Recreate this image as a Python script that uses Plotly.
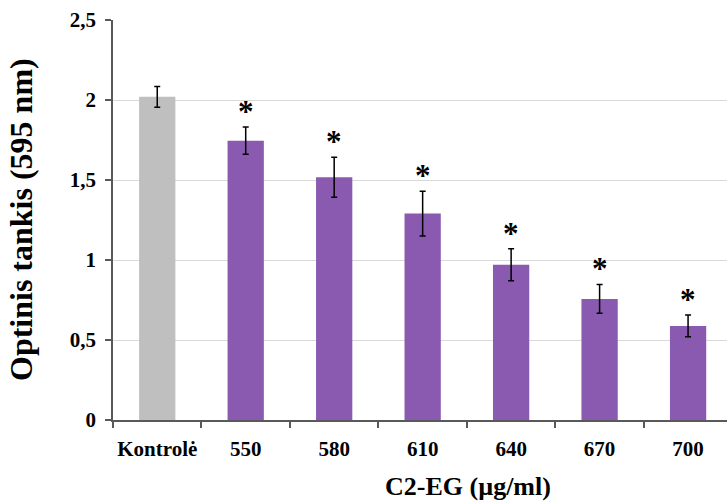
import plotly.graph_objects as go

categories = ["Kontrolė", "550", "580", "610", "640", "670", "700"]
values = [2.02, 1.746, 1.517, 1.29, 0.97, 0.757, 0.588]
errors = [0.065, 0.085, 0.125, 0.14, 0.10, 0.09, 0.068]
colors = ["#bfbfbf", "#8a59b0", "#8a59b0", "#8a59b0", "#8a59b0", "#8a59b0", "#8a59b0"]
significant = [False, True, True, True, True, True, True]
y_ticks = [0, 0.5, 1, 1.5, 2, 2.5]
y_tick_text = ["0", "0,5", "1", "1,5", "2", "2,5"]
x_title = "C2-EG (µg/ml)"
y_title = "Optinis tankis (595 nm)"

font_family = "Liberation Serif"

fig = go.Figure()
fig.add_trace(go.Bar(
    x=list(range(len(categories))), y=values,
    marker=dict(color=colors, line=dict(width=0)),
    error_y=dict(type="data", array=errors, visible=True, color="black", thickness=1.5, width=3),
    width=0.41,
))

for i, (v, e, s) in enumerate(zip(values, errors, significant)):
    if s:
        fig.add_annotation(x=i, y=v + e, text="<b>*</b>", showarrow=False,
                           xref="x", yref="y",
                           yanchor="bottom", yshift=-4,
                           font=dict(family=font_family, size=31, color="black"))

fig.add_annotation(x=0, y=0.5, xref="paper", yref="paper", xshift=-92,
                   text="<b>" + y_title + "</b>", textangle=-90, showarrow=False,
                   xanchor="center", yanchor="middle",
                   font=dict(family=font_family, size=32, color="black"))
fig.add_annotation(x=0.578, y=-0.165, xref="paper", yref="paper",
                   text="<b>" + x_title + "</b>", showarrow=False,
                   xanchor="center", yanchor="middle",
                   font=dict(family=font_family, size=26, color="black"))

fig.update_layout(
    width=727, height=502,
    margin=dict(l=113, r=0, t=20, b=82),
    plot_bgcolor="white", paper_bgcolor="white",
    showlegend=False,
    font=dict(family=font_family, color="black"),
)
fig.update_xaxes(
    range=[-0.5, 6.44],
    tickvals=list(range(len(categories))),
    ticktext=["<b>" + c + "</b>" for c in categories],
    showline=True, linecolor="#595959", linewidth=1.5,
    ticks="",
    tickfont=dict(family=font_family, size=21, color="black"),
    ticklabelstandoff=9,
    showgrid=False, zeroline=False,
    minor=dict(tickvals=[i - 0.5 for i in range(len(categories) + 1)],
               ticks="outside", ticklen=6, tickcolor="#595959", tickwidth=1.5, showgrid=False),
)
fig.update_yaxes(
    range=[0, 2.5],
    tickvals=y_ticks, ticktext=["<b>" + t + "</b>" for t in y_tick_text],
    showline=True, linecolor="#595959", linewidth=1.5,
    ticks="outside", ticklen=6, tickcolor="#595959", tickwidth=1.5,
    tickfont=dict(family=font_family, size=21, color="black"),
    ticklabelstandoff=5,
    showgrid=True, gridcolor="#d9d9d9", gridwidth=1,
    zeroline=False,
)

fig.write_html("out.html")
